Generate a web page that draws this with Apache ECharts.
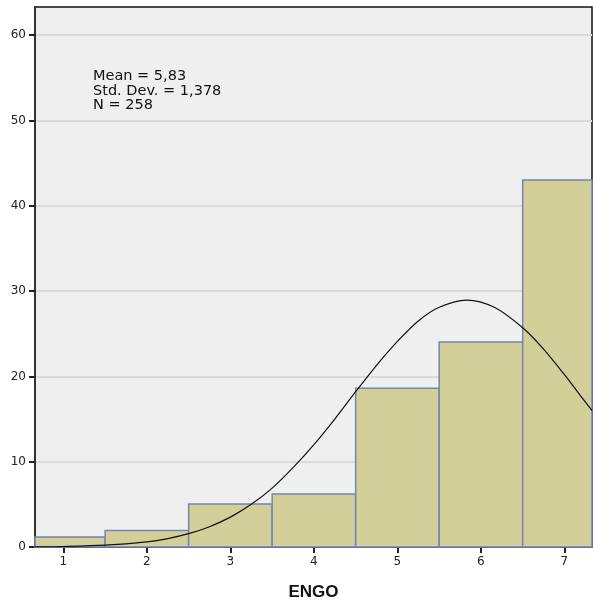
<!DOCTYPE html>
<html>
<head>
<meta charset="utf-8">
<script src="https://cdn.jsdelivr.net/npm/echarts@6/dist/echarts.min.js"></script>
<style>
  html, body { margin: 0; padding: 0; background: #fff; }
  #chart { width: 593px; height: 607px; }
</style>
</head>
<body>
<div id="chart"></div>
<script>
// histogram bins (ENGO value) and percentages
const bins = [1, 2, 3, 4, 5, 6, 7]
const percents = [1.16, 1.94, 5.04, 6.2, 18.6, 24.03, 43.02]
const xTicks = [1, 2, 3, 4, 5, 6, 7]
const yTicks = [0, 10, 20, 30, 40, 50, 60]

// normal curve
const curveX = [0.66, 1, 1.5, 2, 2.25, 2.5, 2.75, 3, 3.25, 3.5, 3.75, 4, 4.25, 4.5, 4.75,
  5, 5.25, 5.5, 5.83, 6.16, 6.5, 6.75, 7, 7.25, 7.33]
const curveY = [0.03, 0.06, 0.21, 0.61, 0.99, 1.56, 2.38, 3.5, 5.0, 6.9, 9.3, 12.0, 15.0, 18.2, 21.3,
  24.1, 26.5, 28.1, 28.95, 28.1, 25.7, 23.2, 20.2, 17.0, 16.0]

const statLines = ['Mean = 5,83', 'Std. Dev. = 1,378', 'N = 258']

const chart = echarts.init(document.getElementById('chart'))

const renderBar = (params, api) => {
  const x = api.value(0)
  const v = api.value(1)
  const p0 = api.coord([x - 0.5, v])
  const p1 = api.coord([x + 0.5, 0])
  const shape = echarts.graphic.clipRectByRect({
    x: p0[0], y: p0[1], width: p1[0] - p0[0], height: p1[1] - p0[1]
  }, {
    x: params.coordSys.x, y: params.coordSys.y,
    width: params.coordSys.width, height: params.coordSys.height
  })
  return shape && {
    type: 'rect',
    shape: shape,
    style: { fill: '#d3cf98', stroke: '#7483b9', lineWidth: 1.5 }
  }
}

chart.setOption({
  animation: false,
  textStyle: { fontFamily: 'DejaVu Sans, sans-serif' },
  grid: {
    left: 35, right: 1, top: 7, bottom: 60,
    show: true, backgroundColor: '#efefef', borderColor: '#111', borderWidth: 1.5
  },
  xAxis: {
    type: 'value', min: 0.66, max: 7.33,
    name: 'ENGO', nameLocation: 'middle', nameGap: 37,
    nameTextStyle: { fontSize: 17, fontWeight: 'bold', color: '#111', fontFamily: 'Liberation Sans, Arial, sans-serif' },
    axisLine: { show: true, onZero: false, lineStyle: { color: '#333', width: 2 } },
    axisTick: { show: true, length: 6, customValues: xTicks, lineStyle: { color: '#222', width: 2 } },
    axisLabel: { customValues: xTicks, color: '#222', fontSize: 12, margin: 9 },
    splitLine: { show: false }
  },
  yAxis: {
    type: 'value', min: 0, max: 63.3,
    axisLine: { show: true, lineStyle: { color: '#333', width: 2 } },
    axisTick: { show: true, length: 6, customValues: yTicks, lineStyle: { color: '#222', width: 2 } },
    axisLabel: { customValues: yTicks, color: '#222', fontSize: 12, margin: 9 },
    splitLine: { show: true, lineStyle: { color: '#dadada', width: 2 } }
  },
  graphic: [{
    type: 'text', left: 93, top: 69,
    style: {
      text: statLines.join('\n'), fontSize: 14.5, lineHeight: 14.3,
      fill: '#111', fontFamily: 'DejaVu Sans, sans-serif'
    }
  }],
  series: [
    {
      type: 'custom',
      renderItem: renderBar,
      data: bins.map((b, i) => [b, percents[i]]),
      z: 2
    },
    {
      type: 'line',
      data: curveX.map((x, i) => [x, curveY[i]]),
      smooth: 0.3,
      showSymbol: false,
      lineStyle: { color: '#111', width: 1.2 },
      z: 3
    }
  ]
})
</script>
</body>
</html>
